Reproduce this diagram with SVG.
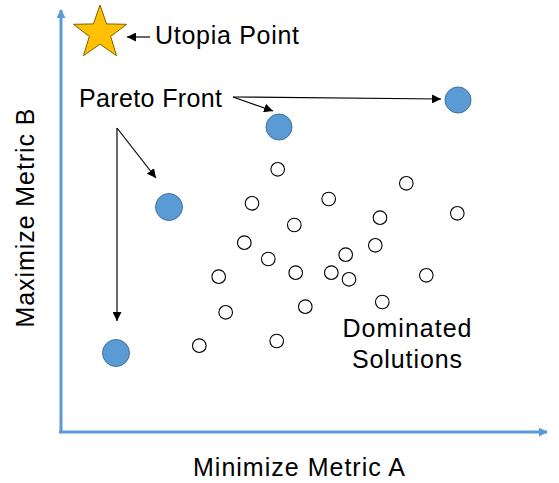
<svg xmlns="http://www.w3.org/2000/svg" width="559" height="483" viewBox="0 0 559 483">
<defs>
<marker id="ah" viewBox="0 0 10 10" refX="10" refY="5" markerWidth="9" markerHeight="9" markerUnits="userSpaceOnUse" orient="auto"><path d="M0,0 L10,5 L0,10 z" fill="#000"/></marker>
<marker id="axh" viewBox="0 0 10 10" refX="9" refY="5" markerWidth="9" markerHeight="9" markerUnits="userSpaceOnUse" orient="auto"><path d="M0,0 L10,5 L0,10 z" fill="#5B9BD5"/></marker>
</defs>
<style>
text{font-family:"Liberation Sans",Arial,sans-serif;font-size:25px;fill:#000}
.axis{stroke:#5B9BD5;stroke-width:3;fill:none}
.conn{stroke:#000;stroke-width:1.2;fill:none;marker-end:url(#ah)}
.pf{fill:#5B9BD5;stroke:#41719C;stroke-width:1}
.dom{fill:#fff;stroke:#000;stroke-width:1.1}
</style>
<rect width="559" height="483" fill="#fff"/>
<g id="axes">
<path class="axis" d="M61,432 L61,10" marker-end="url(#axh)"/>
<path class="axis" d="M59,432 L547,432" marker-end="url(#axh)"/>
<text x="299" y="476" text-anchor="middle" textLength="212">Minimize Metric A</text>
<text transform="translate(34,218) rotate(-90)" text-anchor="middle" textLength="219">Maximize Metric B</text>
</g>
<g id="utopia">
<polygon points="100,5 106.6,23.9 126.6,24.3 110.7,36.4 116.5,55.7 100,44.2 83.5,55.7 89.3,36.4 73.4,24.3 93.4,23.9" fill="#FFC000" stroke="#7F6000" stroke-width="1"/>
<text x="155" y="44" textLength="144">Utopia Point</text>
</g>
<g id="pareto-label"><text x="79" y="107" textLength="143">Pareto Front</text></g>
<g id="pareto-points">
<circle class="pf" cx="279" cy="127" r="13"/>
<circle class="pf" cx="458" cy="100" r="13"/>
<circle class="pf" cx="169" cy="207" r="13.5"/>
<circle class="pf" cx="116" cy="353" r="13.5"/>
</g>
<g id="dominated">
<circle class="dom" cx="277.7" cy="169.3" r="6.8"/>
<circle class="dom" cx="406.3" cy="183.3" r="6.8"/>
<circle class="dom" cx="252" cy="203.3" r="6.8"/>
<circle class="dom" cx="328.7" cy="199" r="6.8"/>
<circle class="dom" cx="380" cy="217.7" r="6.8"/>
<circle class="dom" cx="457.3" cy="213.3" r="6.8"/>
<circle class="dom" cx="294.3" cy="225" r="6.8"/>
<circle class="dom" cx="244.3" cy="242.7" r="6.8"/>
<circle class="dom" cx="375.3" cy="245.3" r="6.8"/>
<circle class="dom" cx="268.3" cy="259" r="6.8"/>
<circle class="dom" cx="345.7" cy="254.7" r="6.8"/>
<circle class="dom" cx="218.7" cy="276.7" r="6.8"/>
<circle class="dom" cx="295.7" cy="272.7" r="6.8"/>
<circle class="dom" cx="331.3" cy="272.7" r="6.8"/>
<circle class="dom" cx="349" cy="279.3" r="6.8"/>
<circle class="dom" cx="426.3" cy="275.3" r="6.8"/>
<circle class="dom" cx="225.7" cy="312.3" r="6.8"/>
<circle class="dom" cx="305.3" cy="306.7" r="6.8"/>
<circle class="dom" cx="382.3" cy="302" r="6.8"/>
<circle class="dom" cx="199.3" cy="345.7" r="6.8"/>
<circle class="dom" cx="276.7" cy="341" r="6.8"/>
<text x="407" y="337" text-anchor="middle" textLength="129">Dominated</text>
<text x="407" y="368" text-anchor="middle" textLength="110">Solutions</text>
</g>
<g id="connectors">
<path class="conn" d="M150,37 L127,37"/>
<path class="conn" d="M233,97 L441,99"/>
<path class="conn" d="M233,97 L273,111"/>
<path class="conn" d="M117,128 L156,178"/>
<path class="conn" d="M117,128 L117,321"/>
</g>
</svg>
